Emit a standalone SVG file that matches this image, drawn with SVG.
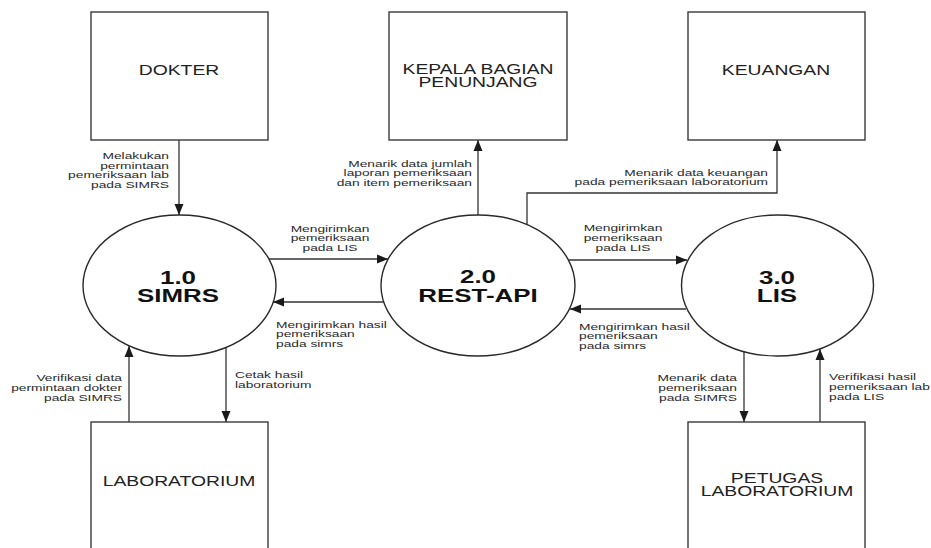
<svg xmlns="http://www.w3.org/2000/svg" width="931" height="548" viewBox="0 0 931 548">
<style>
.box{fill:#fff;stroke:#3a3a3a;stroke-width:1.4}
.proc{fill:#fff;stroke:#2a2a2a;stroke-width:1.4}
.ent{font-family:"Liberation Sans",Arial,sans-serif;font-size:14px;fill:#222;text-anchor:middle}
.pt{font-family:"Liberation Sans",Arial,sans-serif;font-size:18.5px;font-weight:bold;fill:#111;text-anchor:middle}
.lbl{font-family:"Liberation Sans",Arial,sans-serif;font-size:9.3px;fill:#2a2a2a}
.e{text-anchor:end}.m{text-anchor:middle}.s{text-anchor:start}
.flow{fill:none;stroke:#333;stroke-width:1.3;marker-end:url(#ah)}
</style>
<defs>
<marker id="ah" markerUnits="userSpaceOnUse" markerWidth="12" markerHeight="10" refX="11" refY="5" orient="auto">
<path d="M0,0.5 L11,5 L0,9.5 Z" fill="#1a1a1a"/>
</marker>
</defs>
<rect width="931" height="548" fill="#fff"/>

<g id="connectors">
<path class="flow" d="M179,140 V215"/>
<path class="flow" d="M478,215 V140"/>
<path class="flow" d="M527,225 V193 H777 V140"/>
<path class="flow" d="M269,259 H388"/>
<path class="flow" d="M384,302 H273"/>
<path class="flow" d="M569,260 H687"/>
<path class="flow" d="M686,309 H570"/>
<path class="flow" d="M129,422 V346"/>
<path class="flow" d="M226,347 V422"/>
<path class="flow" d="M744,352 V422"/>
<path class="flow" d="M820,422 V349"/>
</g>

<g id="labels">
<text class="lbl e" transform="translate(169,159) scale(1.48,1)"><tspan x="0">Melakukan</tspan><tspan x="0" dy="9.6">permintaan</tspan><tspan x="0" dy="9.6">pemeriksaan lab</tspan><tspan x="0" dy="9.6">pada SIMRS</tspan></text>
<text class="lbl e" transform="translate(472,166.5) scale(1.48,1)"><tspan x="0">Menarik data jumlah</tspan><tspan x="0" dy="9.6">laporan pemeriksaan</tspan><tspan x="0" dy="9.6">dan item pemeriksaan</tspan></text>
<text class="lbl e" transform="translate(768,175.5) scale(1.48,1)"><tspan x="0">Menarik data keuangan</tspan><tspan x="0" dy="9.6">pada pemeriksaan laboratorium</tspan></text>
<text class="lbl m" transform="translate(330,231.5) scale(1.48,1)"><tspan x="0">Mengirimkan</tspan><tspan x="0" dy="10">pemeriksaan</tspan><tspan x="0" dy="10">pada LIS</tspan></text>
<text class="lbl s" transform="translate(276,327.5) scale(1.48,1)"><tspan x="0">Mengirimkan hasil</tspan><tspan x="0" dy="9.6">pemeriksaan</tspan><tspan x="0" dy="9.6">pada simrs</tspan></text>
<text class="lbl m" transform="translate(623,230.7) scale(1.48,1)"><tspan x="0">Mengirimkan</tspan><tspan x="0" dy="10">pemeriksaan</tspan><tspan x="0" dy="10">pada LIS</tspan></text>
<text class="lbl s" transform="translate(579,329.5) scale(1.48,1)"><tspan x="0">Mengirimkan hasil</tspan><tspan x="0" dy="9.8">pemeriksaan</tspan><tspan x="0" dy="9.8">pada simrs</tspan></text>
<text class="lbl e" transform="translate(122,380.7) scale(1.48,1)"><tspan x="0">Verifikasi data</tspan><tspan x="0" dy="10">permintaan dokter</tspan><tspan x="0" dy="10">pada SIMRS</tspan></text>
<text class="lbl s" transform="translate(235,378.3) scale(1.48,1)"><tspan x="0">Cetak hasil</tspan><tspan x="0" dy="10">laboratorium</tspan></text>
<text class="lbl e" transform="translate(737,380.7) scale(1.48,1)"><tspan x="0">Menarik data</tspan><tspan x="0" dy="10">pemeriksaan</tspan><tspan x="0" dy="10">pada SIMRS</tspan></text>
<text class="lbl s" transform="translate(829,380) scale(1.48,1)"><tspan x="0">Verifikasi hasil</tspan><tspan x="0" dy="10">pemeriksaan lab</tspan><tspan x="0" dy="10">pada LIS</tspan></text>
</g>

<g id="dokter">
<rect class="box" x="91" y="12" width="177" height="128"/>
<text class="ent" transform="translate(179,75) scale(1.38,1)">DOKTER</text>
</g>
<g id="kepala">
<rect class="box" x="389" y="12" width="178" height="128"/>
<text class="ent" transform="translate(478,73.5) scale(1.38,1)"><tspan x="0">KEPALA BAGIAN</tspan><tspan x="0" dy="14">PENUNJANG</tspan></text>
</g>
<g id="keuangan">
<rect class="box" x="688" y="12" width="177" height="128"/>
<text class="ent" transform="translate(776,75) scale(1.38,1)">KEUANGAN</text>
</g>
<g id="simrs">
<ellipse class="proc" cx="179.5" cy="285.5" rx="96.5" ry="70.5"/>
<text class="pt" transform="translate(178,283.5) scale(1.4,1)"><tspan x="0">1.0</tspan><tspan x="0" dy="19">SIMRS</tspan></text>
</g>
<g id="restapi">
<ellipse class="proc" cx="478" cy="285.5" rx="97" ry="70.5"/>
<text class="pt" transform="translate(478,282.5) scale(1.4,1)"><tspan x="0">2.0</tspan><tspan x="0" dy="20">REST-API</tspan></text>
</g>
<g id="lis">
<ellipse class="proc" cx="777.5" cy="285.5" rx="96" ry="70.5"/>
<text class="pt" transform="translate(777,283.5) scale(1.4,1)"><tspan x="0">3.0</tspan><tspan x="0" dy="19">LIS</tspan></text>
</g>
<g id="laboratorium">
<rect class="box" x="91" y="422" width="177" height="140"/>
<text class="ent" transform="translate(179,485.5) scale(1.38,1)">LABORATORIUM</text>
</g>
<g id="petugas">
<rect class="box" x="688" y="422" width="177" height="140"/>
<text class="ent" transform="translate(777,482.5) scale(1.38,1)"><tspan x="0">PETUGAS</tspan><tspan x="0" dy="14">LABORATORIUM</tspan></text>
</g>
</svg>
